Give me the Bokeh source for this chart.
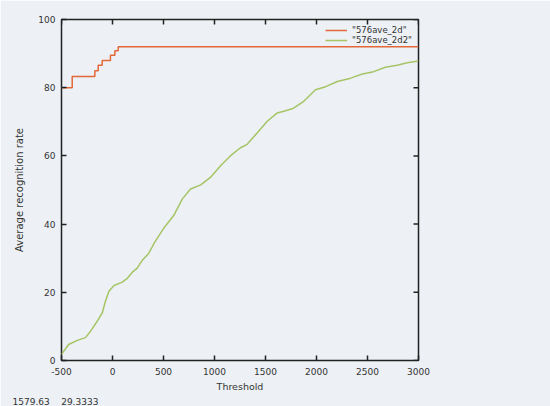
import math
from bokeh.plotting import figure
from bokeh.models import Range1d, FixedTicker, Legend, LegendItem, Title
from bokeh.embed import file_html
from bokeh.resources import INLINE

# ---- data ----
orange_thr = [-500, -395, -173, -140, -101, -20, 23, 56, 3000]
orange_rate = [80.0, 83.3, 85.0, 86.6, 88.0, 89.5, 90.8, 92.0, 92.0]

green_thr = [-500, -430, -345, -265, -215, -150, -100, -70, -35, 15, 95, 145, 195, 240, 295,
             355, 410, 500, 600, 685, 765, 865, 960, 1060, 1155, 1255, 1320, 1420, 1515, 1615,
             1680, 1775, 1875, 1990, 2090, 2205, 2335, 2450, 2560, 2675, 2790, 2890, 3000]
green_rate = [1.8, 4.7, 5.9, 6.7, 8.6, 11.5, 14.0, 17.3, 20.3, 22.0, 23.0, 24.1, 25.9, 27.0, 29.5,
              31.4, 34.5, 38.7, 42.5, 47.4, 50.3, 51.5, 53.7, 57.1, 60.0, 62.4, 63.4, 66.8, 70.1, 72.6,
              73.1, 74.0, 76.0, 79.4, 80.3, 81.8, 82.8, 84.0, 84.7, 86.0, 86.6, 87.3, 87.8]

x_ticks = [-500, 0, 500, 1000, 1500, 2000, 2500, 3000]
y_ticks = [0, 20, 40, 60, 80, 100]
series_names = ['"576ave_2d"', '"576ave_2d2"']
status_values = ["1579.63", "29.3333"]

X_MIN, X_MAX = -500, 3000
Y_MIN, Y_MAX = 0, 100

BG = "#edf1f5"
FONT = "DejaVu Sans"
INK = "#222222"
TXT = "#333333"

p = figure(width=550, height=406, output_backend="svg", toolbar_location=None,
           x_range=Range1d(X_MIN, X_MAX), y_range=Range1d(Y_MIN, Y_MAX),
           min_border_left=61, min_border_right=132, min_border_top=19, min_border_bottom=43)
p.background_fill_color = BG
p.border_fill_color = BG
p.outline_line_color = INK
p.outline_line_width = 1.5
p.xgrid.visible = False
p.ygrid.visible = False

r1 = p.step(orange_thr, orange_rate, mode="after", line_color="#e2683a", line_width=1.5)
r2 = p.line(green_thr, green_rate, line_color="#a6c466", line_width=1.5)

# mirrored inward ticks on the top and right edges (gnuplot style)
p.scatter(x=x_ticks, y=[Y_MAX] * len(x_ticks), marker="dash", size=10, angle=math.pi / 2,
          line_color=INK, line_width=1.5)
p.scatter(x=[X_MAX] * len(y_ticks), y=y_ticks, marker="dash", size=10,
          line_color=INK, line_width=1.5)

for ax in (p.xaxis[0], p.yaxis[0]):
    ax.axis_line_color = None
    ax.major_tick_in = 5
    ax.major_tick_out = 0
    ax.minor_tick_line_color = None
    ax.major_tick_line_color = INK
    ax.major_tick_line_width = 1.5
    ax.major_label_text_font = FONT
    ax.major_label_text_font_size = "9px"
    ax.major_label_text_color = TXT
    ax.axis_label_text_font = FONT
    ax.axis_label_text_font_style = "normal"
    ax.axis_label_text_color = TXT

xa = p.xaxis[0]
ya = p.yaxis[0]
xa.ticker = FixedTicker(ticks=x_ticks)
ya.ticker = FixedTicker(ticks=y_ticks)
xa.major_label_overrides = {t: str(t) for t in x_ticks}
ya.major_label_overrides = {t: str(t) for t in y_ticks}
xa.axis_label = "Threshold"
ya.axis_label = "Average recognition rate"
xa.axis_label_text_font_size = "9.5px"
ya.axis_label_text_font_size = "10px"
xa.major_label_standoff = 7
xa.axis_label_standoff = 3
ya.major_label_standoff = 6
ya.axis_label_standoff = 10

legend = Legend(items=[LegendItem(label=series_names[0], renderers=[r1]),
                       LegendItem(label=series_names[1], renderers=[r2])],
                location="top_right")
legend.background_fill_alpha = 0
legend.border_line_color = None
legend.label_text_font = FONT
legend.label_text_font_size = "8.5px"
legend.label_text_color = TXT
legend.glyph_width = 22
legend.glyph_height = 10
legend.label_height = 10
legend.spacing = 0
legend.padding = 2
legend.margin = 6
p.add_layout(legend)

status = Title(text="\u00a0\u00a0\u00a0\u00a0".join(status_values), align="left", offset=-49,
               standoff=0, text_font=FONT, text_font_size="9px", text_font_style="normal",
               text_color=TXT)
p.add_layout(status, "below")

open("out.html", "w").write(file_html(p, INLINE))
